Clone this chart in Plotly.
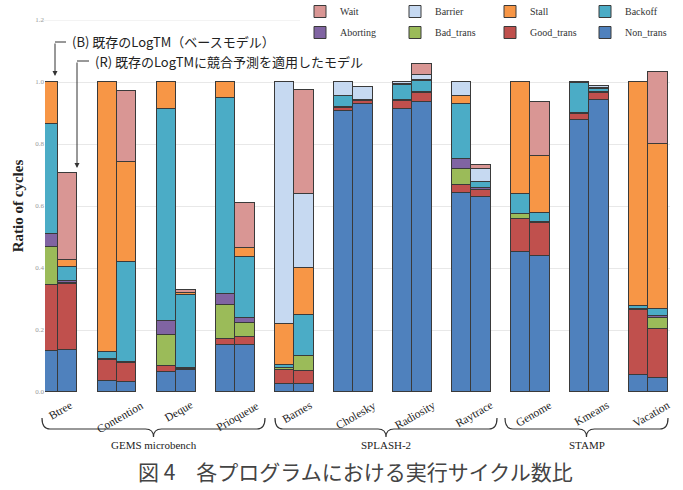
import plotly.graph_objects as go

categories = ["Btree", "Contention", "Deque", "Prioqueue", "Barnes", "Cholesky",
              "Radiosity", "Raytrace", "Genome", "Kmeans", "Vacation"]
groups = ["GEMS microbench", "SPLASH-2", "STAMP"]
series = ["Non_trans", "Good_trans", "Bad_trans", "Aborting", "Backoff", "Stall", "Barrier", "Wait"]
colors = ["#4F81BD", "#C0504D", "#9BBB59", "#8064A2", "#4BACC6", "#F79646", "#C6D9F1", "#D99694"]

# (B) base model, segment heights per category
B_non_trans  = [0.133, 0.034, 0.064, 0.151, 0.027, 0.908, 0.912, 0.643, 0.452, 0.879, 0.056]
B_good_trans = [0.213, 0.068, 0.021, 0.021, 0.045, 0.009, 0.027, 0.024, 0.107, 0.017, 0.208]
B_bad_trans  = [0.122, 0.004, 0.100, 0.110, 0.004, 0.000, 0.000, 0.051, 0.014, 0.000, 0.000]
B_aborting   = [0.043, 0.000, 0.045, 0.034, 0.000, 0.003, 0.004, 0.034, 0.000, 0.005, 0.004]
B_backoff    = [0.352, 0.023, 0.682, 0.634, 0.012, 0.035, 0.046, 0.178, 0.067, 0.097, 0.009]
B_stall      = [0.137, 0.871, 0.088, 0.050, 0.132, 0.000, 0.005, 0.025, 0.360, 0.002, 0.723]
B_barrier    = [0.000, 0.000, 0.000, 0.000, 0.780, 0.045, 0.006, 0.045, 0.000, 0.000, 0.000]
B_wait       = [0.000, 0.000, 0.000, 0.000, 0.000, 0.000, 0.000, 0.000, 0.000, 0.000, 0.000]

# (R) LogTM with conflict prediction
R_non_trans  = [0.137, 0.031, 0.070, 0.151, 0.027, 0.928, 0.936, 0.630, 0.438, 0.942, 0.045]
R_good_trans = [0.212, 0.063, 0.004, 0.026, 0.042, 0.011, 0.027, 0.023, 0.106, 0.021, 0.158]
R_bad_trans  = [0.004, 0.003, 0.003, 0.044, 0.048, 0.000, 0.000, 0.000, 0.005, 0.000, 0.036]
R_aborting   = [0.004, 0.000, 0.000, 0.018, 0.000, 0.004, 0.004, 0.005, 0.000, 0.005, 0.007]
R_backoff    = [0.047, 0.322, 0.237, 0.198, 0.131, 0.000, 0.036, 0.020, 0.027, 0.010, 0.022]
R_stall      = [0.023, 0.323, 0.006, 0.029, 0.151, 0.000, 0.005, 0.000, 0.185, 0.004, 0.533]
R_barrier    = [0.000, 0.000, 0.000, 0.000, 0.241, 0.042, 0.013, 0.040, 0.000, 0.005, 0.000]
R_wait       = [0.280, 0.230, 0.008, 0.144, 0.334, 0.000, 0.036, 0.014, 0.175, 0.000, 0.231]

B_data = [B_non_trans, B_good_trans, B_bad_trans, B_aborting, B_backoff, B_stall, B_barrier, B_wait]
R_data = [R_non_trans, R_good_trans, R_bad_trans, R_aborting, R_backoff, R_stall, R_barrier, R_wait]

W, H = 683, 490
ML, MR, MT, MB = 45, 13, 20, 98
PW, PH = W - ML - MR, H - MT - MB
def px(x):  # pixel x -> paper
    return (x - ML) / PW
def py(y):  # pixel y -> paper
    return (H - MB - y) / PH

off, bw = 0.165, 0.33
n = len(categories)
xs = [i - off for i in range(n)] + [i + off for i in range(n)]

fig = go.Figure()
for k, (name, col, b, r) in enumerate(zip(series, colors, B_data, R_data)):
    fig.add_trace(go.Bar(
        x=xs, y=b + r, name=name, width=bw,
        legend="legend" if k >= 4 else "legend2",
        marker=dict(color=col, line=dict(color="#3a3a3a", width=1)),
    ))

serif = "Liberation Serif"
cjk = "Noto Sans CJK JP"

annotations = []
# category labels
for i, c in enumerate(categories):
    annotations.append(dict(x=i + 0.05, y=py(396), xref="x", yref="paper", text=c,
                            showarrow=False, textangle=-30, xanchor="center", yanchor="top",
                            font=dict(family=serif, size=11.5, color="#222")))

# group braces
brace_spans = [(42, 265), (275, 497), (505, 668)]
shapes = []
# top gridline segment (1.2) visible left of the legend
shapes.append(dict(type="line", xref="paper", yref="y", x0=px(40), x1=px(300),
                   y0=1.2, y1=1.2, line=dict(color="#e8e8e8", width=1), layer="below"))
yt, ym, yb = py(418), py(429), py(437)
for (x0, x1), g in zip(brace_spans, groups):
    xm = (x0 + x1) / 2
    d = 8 / PW
    a, b_, c = px(x0), px(xm), px(x1)
    path = (f"M {a},{yt} Q {a},{ym} {a+d},{ym} L {b_-d},{ym} Q {b_},{ym} {b_},{yb} "
            f"Q {b_},{ym} {b_+d},{ym} L {c-d},{ym} Q {c},{ym} {c},{yt}")
    shapes.append(dict(type="path", path=path, xref="paper", yref="paper",
                       line=dict(color="#333", width=1.2)))
    annotations.append(dict(x=b_, y=py(437), xref="paper", yref="paper", text=g,
                            showarrow=False, xanchor="center", yanchor="top",
                            font=dict(family=serif, size=11, color="#222")))

# caption
annotations.append(dict(x=px(355), y=py(471), xref="paper", yref="paper",
                        text="図 4　各プログラムにおける実行サイクル数比", showarrow=False,
                        xanchor="center", yanchor="middle",
                        font=dict(family=cjk, size=21, color="#444")))

# (B) and (R) callouts
annotations.append(dict(x=px(70), y=py(42), xref="paper", yref="paper",
                        text="(B) 既存のLogTM（ベースモデル）", showarrow=False,
                        xanchor="left", yanchor="middle",
                        font=dict(family=cjk, size=13, color="#222")))
annotations.append(dict(x=px(93), y=py(61), xref="paper", yref="paper",
                        text="(R) 既存のLogTMに競合予測を適用したモデル", showarrow=False,
                        xanchor="left", yanchor="middle",
                        font=dict(family=cjk, size=13, color="#222")))
shapes.append(dict(type="line", xref="paper", yref="paper", x0=px(55), x1=px(66),
                   y0=py(42), y1=py(42), line=dict(color="#333", width=1)))
shapes.append(dict(type="line", xref="paper", yref="paper", x0=px(77), x1=px(89),
                   y0=py(61), y1=py(61), line=dict(color="#333", width=1)))
annotations.append(dict(x=px(55), y=py(76), xref="paper", yref="paper", text="",
                        showarrow=True, ax=0, ay=-34, arrowhead=2, arrowsize=1,
                        arrowwidth=1, arrowcolor="#333"))
annotations.append(dict(x=px(77), y=py(168), xref="paper", yref="paper", text="",
                        showarrow=True, ax=0, ay=-107, arrowhead=2, arrowsize=1,
                        arrowwidth=1, arrowcolor="#333"))

legend_common = dict(orientation="h", xanchor="left", yanchor="top",
                     traceorder="reversed", entrywidth=50, bgcolor="white",
                     font=dict(family=serif, size=10, color="#333"), itemwidth=30)

fig.update_layout(
    width=W, height=H, barmode="stack",
    margin=dict(l=ML, r=MR, t=MT, b=MB, autoexpand=False),
    paper_bgcolor="white", plot_bgcolor="white",
    xaxis=dict(range=[-0.22, 10.37], showticklabels=False, showgrid=False,
               zeroline=False, showline=False, ticks=""),
    yaxis=dict(range=[0, 1.2], dtick=0.2, tickformat=".1f", showgrid=True,
               gridcolor="#e8e8e8", zeroline=False, showline=False,
               tickfont=dict(family=serif, size=7, color="#999"),
               title=dict(text="<b>Ratio of cycles</b>", standoff=8,
                          font=dict(family=serif, size=15, color="#222"))),
    legend=dict(x=px(300), y=py(-3), **legend_common),
    legend2=dict(x=px(300), y=py(18), **legend_common),
    shapes=shapes, annotations=annotations, bargap=0,
)

fig.write_html("out.html")
